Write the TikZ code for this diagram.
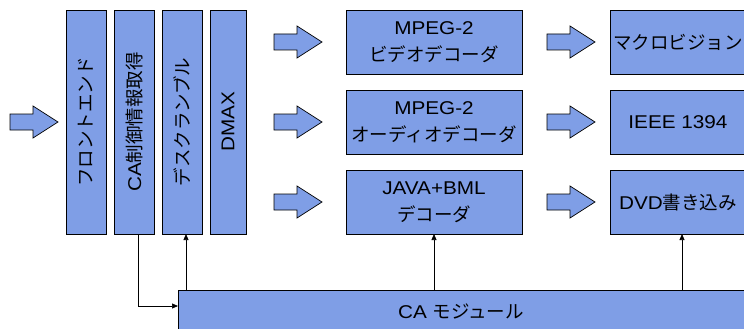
\documentclass[tikz,border=0pt]{standalone}
\usepackage{fontspec}
\setmainfont{Liberation Sans}[FakeStretch=1.12]
\newfontfamily\jp{Noto Sans CJK JP}
\usetikzlibrary{arrows.meta}
\definecolor{boxblue}{RGB}{127,158,230}
\tikzset{
  box/.style={draw=black, line width=0.8pt, fill=boxblue, inner sep=0pt, outer sep=0pt,
    align=center, font=\fontsize{18.5}{27}\selectfont},
  vbox/.style={box, minimum width=40pt, minimum height=224pt},
  dbox/.style={box, minimum width=176pt, minimum height=64pt},
  obox/.style={box, minimum width=136pt, minimum height=64pt},
  conn/.style={draw=black, line width=0.7pt, -{Triangle[length=6pt,width=5pt]}},
  blockarrow/.pic={
    \draw[line width=0.7pt, fill=boxblue]
      (0,-8) -- (23,-8) -- (23,-16) -- (48,0) -- (23,16) -- (23,8) -- (0,8) -- cycle;
  }
}
\begin{document}
\begin{tikzpicture}[x=1pt, y=-1pt]
\useasboundingbox (0,0) rectangle (744,329);
\clip (0,0) rectangle (744,329);
% vertical boxes
\node[vbox] (fe) at (86,122) {\rotatebox{90}{\jp フロントエンド}};
\node[vbox] (ca) at (134,122) {\rotatebox{90}{CA{\jp 制御情報取得}}};
\node[vbox] (ds) at (182,122) {\rotatebox{90}{\jp デスクランブル}};
\node[vbox, minimum width=36pt] (dm) at (228,122) {\rotatebox{90}{DMAX}};
% decoders
\node[dbox] (v1) at (434,42) {MPEG-2\\{\jp ビデオデコーダ}};
\node[dbox] (v2) at (434,122) {MPEG-2\\{\jp オーディオデコーダ}};
\node[dbox] (v3) at (434,202) {JAVA+BML\\{\jp デコーダ}};
% outputs
\node[obox] (o1) at (678,42) {\jp マクロビジョン};
\node[obox] (o2) at (678,122) {IEEE 1394};
\node[obox] (o3) at (678,202) {DVD{\jp 書き込み}};
% CA module
\node[box, minimum width=566pt, minimum height=42pt] (cam) at (461,311) {CA {\jp モジュール}};
% block arrows
\pic at (10,122) {blockarrow};
\pic at (274,42) {blockarrow};
\pic at (274,122) {blockarrow};
\pic at (274,202) {blockarrow};
\pic at (547,42) {blockarrow};
\pic at (547,122) {blockarrow};
\pic at (547,202) {blockarrow};
% connectors
\coordinate (caout) at ([xshift=4pt]ca.south);
\coordinate (camin) at ([yshift=5pt]cam.west);
\draw[conn] (caout) |- (camin);
\coordinate (dsin) at ([xshift=4pt]ds.south);
\draw[conn] (dsin |- cam.north) -- (dsin);
\draw[conn] (v3.south |- cam.north) -- (v3.south);
\coordinate (o3in) at ([xshift=4pt]o3.south);
\draw[conn] (o3in |- cam.north) -- (o3in);
\end{tikzpicture}
\end{document}
